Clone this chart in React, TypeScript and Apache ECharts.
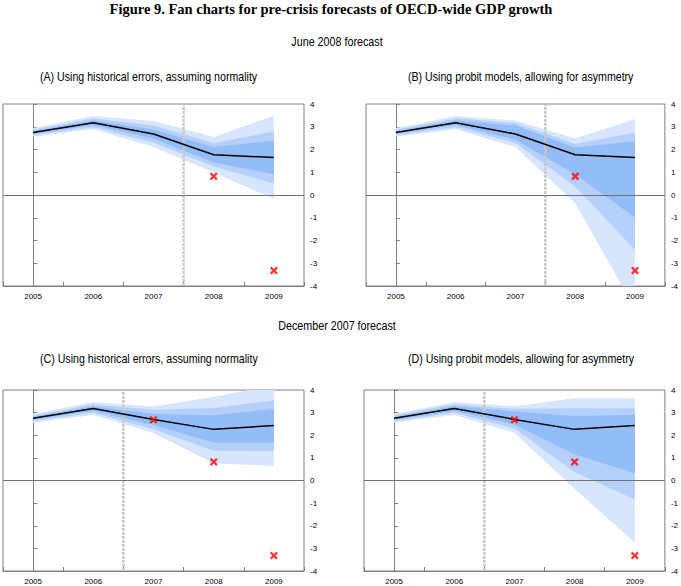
import React, { useEffect, useRef } from "react";
import * as echarts from "echarts";

const years = ["2005", "2006", "2007", "2008", "2009"];

// Panel A: June 2008, historical errors (normal)
const aCentral = [2.75, 3.18, 2.68, 1.77, 1.65];
const aOuterHigh = [2.94, 3.47, 3.25, 2.55, 3.48];
const aMidHigh = [2.87, 3.37, 3.06, 2.29, 2.79];
const aInnerHigh = [2.81, 3.28, 2.88, 2.11, 2.39];
const aInnerLow = [2.69, 3.08, 2.48, 1.43, 0.91];
const aMidLow = [2.63, 2.99, 2.3, 1.25, 0.51];
const aOuterLow = [2.56, 2.89, 2.11, 0.99, -0.18];

// Panel B: June 2008, probit models (asymmetric)
const bCentral = [2.75, 3.18, 2.68, 1.77, 1.65];
const bOuterHigh = [2.94, 3.47, 3.27, 2.48, 3.34];
const bMidHigh = [2.87, 3.37, 3.17, 2.24, 2.75];
const bInnerHigh = [2.81, 3.28, 3.05, 2.09, 2.36];
const bInnerLow = [2.69, 3.08, 2.43, 0.9, -0.99];
const bMidLow = [2.63, 2.99, 2.29, 0.37, -2.42];
const bOuterLow = [2.56, 2.89, 2.11, -0.36, -5.0];

// Panel C: December 2007, historical errors (normal)
const cCentral = [2.75, 3.18, 2.7, 2.26, 2.43];
const cOuterHigh = [2.94, 3.47, 3.27, 3.7, 4.2];
const cMidHigh = [2.87, 3.37, 3.13, 3.2, 3.55];
const cInnerHigh = [2.81, 3.28, 2.95, 2.88, 3.16];
const cInnerLow = [2.69, 3.08, 2.45, 1.68, 1.68];
const cMidLow = [2.63, 2.99, 2.27, 1.31, 1.29];
const cOuterLow = [2.56, 2.89, 2.1, 0.76, 0.64];

// Panel D: December 2007, probit models (asymmetric)
const dCentral = [2.75, 3.18, 2.7, 2.26, 2.43];
const dOuterHigh = [2.94, 3.47, 3.28, 3.63, 3.63];
const dMidHigh = [2.87, 3.37, 3.17, 3.19, 3.19];
const dInnerHigh = [2.81, 3.28, 3.05, 2.85, 2.91];
const dInnerLow = [2.69, 3.08, 2.47, 1.15, 0.32];
const dMidLow = [2.63, 2.99, 2.3, 0.37, -0.84];
const dOuterLow = [2.56, 2.89, 2.1, -0.37, -2.75];

// Outturns (red crosses)
const juneOutturn = [null, null, null, 0.82, -3.32];
const decOutturn = [null, null, 2.68, 0.82, -3.32];

// Forecast origin (position between categories, in category-index units)
const juneOrigin = 2.5;
const decOrigin = 1.5;

const yMin = -4;
const yMax = 4;
const yStep = 1;

const mainTitle = "Figure 9. Fan charts for pre-crisis forecasts of OECD-wide GDP growth";
const rowTitles = ["June 2008 forecast", "December 2007 forecast"];
const panelTitles = [
  "(A) Using historical errors, assuming normality",
  "(B) Using probit models, allowing for asymmetry",
  "(C) Using historical errors, assuming normality",
  "(D) Using probit models, allowing for asymmetry",
];

const COL_OUTER = "#d8e6fd";
const COL_MID = "#b5d1fb";
const COL_INNER = "#93bdf8";

const crossPath =
  "path://M2,0 L5,3 L8,0 L10,2 L7,5 L10,8 L8,10 L5,7 L2,10 L0,8 L3,5 L0,2 Z";

const grids = [
  { left: 3, top: 104, width: 301, height: 182 },
  { left: 366, top: 104, width: 300, height: 182 },
  { left: 3, top: 390, width: 301, height: 181 },
  { left: 364, top: 390, width: 301, height: 181 },
];

export default function App() {
  const ref = useRef<HTMLDivElement>(null);
  useEffect(() => {
    if (!ref.current) return;
    const chart = echarts.init(ref.current, null, { renderer: "svg" });

    const panels = [
      { c: aCentral, bands: [[aOuterLow, aOuterHigh], [aMidLow, aMidHigh], [aInnerLow, aInnerHigh]], out: juneOutturn, origin: juneOrigin },
      { c: bCentral, bands: [[bOuterLow, bOuterHigh], [bMidLow, bMidHigh], [bInnerLow, bInnerHigh]], out: juneOutturn, origin: juneOrigin },
      { c: cCentral, bands: [[cOuterLow, cOuterHigh], [cMidLow, cMidHigh], [cInnerLow, cInnerHigh]], out: decOutturn, origin: decOrigin },
      { c: dCentral, bands: [[dOuterLow, dOuterHigh], [dMidLow, dMidHigh], [dInnerLow, dInnerHigh]], out: decOutturn, origin: decOrigin },
    ];
    const colors = [COL_OUTER, COL_MID, COL_INNER];

    const xAxis: any[] = [];
    const yAxis: any[] = [];
    const series: any[] = [];

    panels.forEach((p, gi) => {
      xAxis.push({
        type: "category",
        gridIndex: gi,
        data: years,
        boundaryGap: true,
        axisLine: { show: true, onZero: false, lineStyle: { color: "#808080", width: 1 } },
        axisTick: { show: true, inside: true, length: 4, lineStyle: { color: "#808080" } },
        axisLabel: { fontSize: 8, color: "#000", margin: 6, fontFamily: "Liberation Sans" },
        splitLine: { show: false },
      });
      xAxis.push({
        type: "value",
        gridIndex: gi,
        min: -0.5,
        max: years.length - 0.5,
        show: false,
      });
      yAxis.push({
        type: "value",
        gridIndex: gi,
        position: "right",
        min: yMin,
        max: yMax,
        interval: yStep,
        axisLine: { show: true, lineStyle: { color: "#808080", width: 1 } },
        axisTick: { show: true, inside: false, length: 4, lineStyle: { color: "#808080" } },
        axisLabel: { fontSize: 8, color: "#000", margin: 6, fontFamily: "Liberation Sans" },
        splitLine: { show: false },
      });

      p.bands.forEach((b, bi) => {
        const low = b[0];
        const high = b[1];
        series.push({
          type: "custom",
          xAxisIndex: gi * 2,
          yAxisIndex: gi,
          clip: true,
          silent: true,
          z: 1,
          data: years.map((_, i) => [i, low[i], high[i]]),
          renderItem: (params: any, api: any) => {
            if (params.dataIndex !== 0) return { type: "group", children: [] };
            const pts: number[][] = [];
            for (let i = 0; i < years.length; i++) pts.push(api.coord([i, high[i]]));
            for (let i = years.length - 1; i >= 0; i--) pts.push(api.coord([i, low[i]]));
            return { type: "polygon", shape: { points: pts }, style: { fill: colors[bi] } };
          },
        });
      });

      // forecast origin dashed line
      series.push({
        type: "line",
        xAxisIndex: gi * 2 + 1,
        yAxisIndex: gi,
        data: [[p.origin, yMin], [p.origin, yMax]],
        symbol: "none",
        silent: true,
        z: 2,
        lineStyle: { color: "#c8c8c8", width: 2.5, type: [3, 1] },
      });

      // central projection
      series.push({
        type: "line",
        xAxisIndex: gi * 2,
        yAxisIndex: gi,
        data: p.c,
        symbol: "none",
        silent: true,
        z: 3,
        lineStyle: { color: "#000", width: 1.5 },
        markLine: {
          silent: true,
          symbol: "none",
          label: { show: false },
          lineStyle: { color: "#707070", width: 1, type: "solid" },
          data: [{ yAxis: 0 }],
        },
      });

      // outturns
      series.push({
        type: "scatter",
        xAxisIndex: gi * 2,
        yAxisIndex: gi,
        data: p.out.map((v, i) => (v === null ? null : [i, v])).filter((d) => d !== null),
        symbol: crossPath,
        symbolSize: 8,
        silent: true,
        z: 4,
        itemStyle: { color: "#ff0000" },
      });
    });

    const sans = "'Liberation Sans', Arial, sans-serif";
    const subStyle = (text: string, align: string) => ({
      text,
      font: `12.5px ${sans}`,
      fill: "#000",
      textAlign: align,
      textVerticalAlign: "middle",
    });
    const graphic: any[] = [
      {
        type: "text",
        x: 331,
        y: 9,
        style: {
          text: mainTitle,
          font: "bold 14.5px 'Liberation Serif', 'Times New Roman', serif",
          fill: "#000",
          textAlign: "center",
          textVerticalAlign: "middle",
        },
      },
      { type: "text", x: 337, y: 41, scaleX: 0.86, style: subStyle(rowTitles[0], "center") },
      { type: "text", x: 337, y: 325, scaleX: 0.86, style: subStyle(rowTitles[1], "center") },
      { type: "text", x: 40, y: 76, scaleX: 0.85, style: subStyle(panelTitles[0], "left") },
      { type: "text", x: 408, y: 76, scaleX: 0.85, style: subStyle(panelTitles[1], "left") },
      { type: "text", x: 40, y: 358, scaleX: 0.85, style: subStyle(panelTitles[2], "left") },
      { type: "text", x: 408, y: 358, scaleX: 0.85, style: subStyle(panelTitles[3], "left") },
    ];

    chart.setOption({
      animation: false,
      backgroundColor: "#fff",
      grid: grids.map((g) => ({ ...g, show: true, borderColor: "#808080", borderWidth: 1, backgroundColor: "transparent", containLabel: false })),
      xAxis,
      yAxis,
      series,
      graphic,
    });

    return () => chart.dispose();
  }, []);

  return (
    <div
      ref={ref}
      style={{ position: "fixed", left: 0, top: 0, width: 681, height: 586, background: "#fff" }}
    />
  );
}
